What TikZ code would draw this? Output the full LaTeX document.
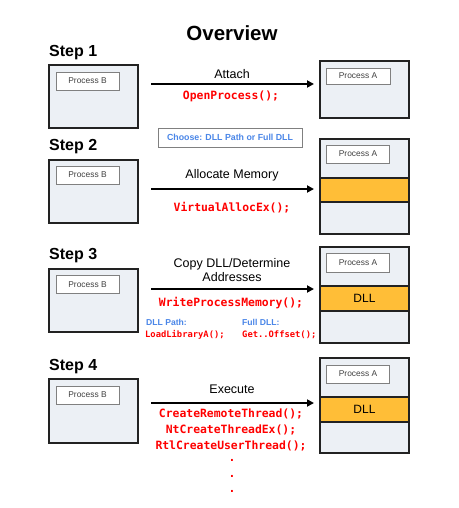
\documentclass[tikz,border=0pt]{standalone}
\usepackage{fontspec}
\setmainfont{Liberation Sans}
\newfontfamily\codefont{DejaVu Sans Mono}
\usetikzlibrary{arrows.meta}
\definecolor{boxfill}{RGB}{236,240,245}
\definecolor{bandfill}{RGB}{255,190,55}
\definecolor{codered}{RGB}{255,0,0}
\definecolor{noteblue}{RGB}{74,134,232}
\definecolor{edge}{RGB}{34,34,34}
\begin{document}
\begin{tikzpicture}[x=1pt,y=-1pt,
  procbox/.style={draw=edge,line width=1.4pt,fill=boxfill,inner sep=0pt,outer sep=0pt},
  plabel/.style={draw=black!50,line width=0.7pt,fill=white,inner sep=0pt,minimum width=63pt,minimum height=18pt,font=\fontsize{8.4}{10}\selectfont,text=black!75},
  band/.style={draw=edge,line width=1.2pt,fill=bandfill,inner sep=0pt,minimum width=89pt,minimum height=24pt,font=\fontsize{12}{14}\selectfont},
  steptitle/.style={anchor=west,inner sep=0pt,font=\bfseries\fontsize{16}{19}\selectfont},
  action/.style={inner sep=0pt,align=center,font=\fontsize{12.5}{14}\selectfont},
  code/.style={inner sep=0pt,text=codered,font=\codefont\bfseries\fontsize{11.4}{14}\selectfont},
  smallcode/.style={inner sep=0pt,anchor=west,text=codered,font=\codefont\bfseries\fontsize{8.8}{10}\selectfont},
  note/.style={inner sep=0pt,anchor=west,text=noteblue,font=\bfseries\fontsize{8.6}{10}\selectfont},
  arr/.style={line width=1.8pt,-{Triangle[length=7pt,width=7pt]}}]
\useasboundingbox[fill=white] (0,0) rectangle (458,508);

\node[inner sep=0pt,font=\bfseries\fontsize{20.5}{24}\selectfont] (title) at (232,33) {Overview};

% Step 1
\node[steptitle] (S1) at (49,53) {Step 1};
\node[procbox,minimum width=89pt,minimum height=63pt] (L1) at (93.5,96.5) {};
\node[plabel] (PB1) at (87.5,81) {Process B};
\node[procbox,minimum width=89pt,minimum height=57pt] (R1) at (364.5,89.5) {};
\node[plabel,minimum width=64pt,minimum height=16pt] (PA1) at (358,76) {Process A};
\coordinate (a1s) at (151,84);
\coordinate (a1e) at (314,84);
\draw[arr] (a1s) -- (a1e);
\node[action] (t1) at (232,74) {Attach};
\node[code] (c1) at (231,96) {OpenProcess();};

\node[draw=black!50,line width=0.7pt,fill=white,inner sep=0pt,minimum width=144pt,minimum height=19pt,text=noteblue,font=\bfseries\fontsize{8.8}{10}\selectfont] (choose) at (230,137.5) {Choose: DLL Path or Full DLL};

% Step 2
\node[steptitle] (S2) at (49,147) {Step 2};
\node[procbox,minimum width=89pt,minimum height=63pt] (L2) at (93.5,191.5) {};
\node[plabel] (PB2) at (87.5,175) {Process B};
\node[procbox,minimum width=89pt,minimum height=95pt] (R2) at (364.5,186.5) {};
\node[plabel] (PA2) at (358,154) {Process A};
\node[band] (D2) at (364.5,190) {};
\coordinate (a2s) at (151,189);
\coordinate (a2e) at (314,189);
\draw[arr] (a2s) -- (a2e);
\node[action] (t2) at (232,175) {Allocate Memory};
\node[code] (c2) at (232,208) {VirtualAllocEx();};

% Step 3
\node[steptitle] (S3) at (49,256) {Step 3};
\node[procbox,minimum width=89pt,minimum height=63pt] (L3) at (93.5,300.5) {};
\node[plabel] (PB3) at (87.5,284.5) {Process B};
\node[procbox,minimum width=89pt,minimum height=96pt] (R3) at (364.5,295) {};
\node[plabel,minimum height=19pt] (PA3) at (358,262.5) {Process A};
\node[band,minimum height=25pt] (D3) at (364.5,298.5) {DLL};
\coordinate (a3s) at (151,289);
\coordinate (a3e) at (314,289);
\draw[arr] (a3s) -- (a3e);
\node[action] (t3) at (232,270) {Copy DLL/Determine\\Addresses};
\node[code] (c3) at (231,303) {WriteProcessMemory();};
\node[note] (n1) at (146,322) {DLL Path:};
\node[smallcode] (s1) at (145,335) {LoadLibraryA();};
\node[note] (n2) at (242,322) {Full DLL:};
\node[smallcode] (s2) at (242,335) {Get..Offset();};

% Step 4
\node[steptitle] (S4) at (49,367) {Step 4};
\node[procbox,minimum width=89pt,minimum height=64pt] (L4) at (93.5,411) {};
\node[plabel] (PB4) at (87.5,395) {Process B};
\node[procbox,minimum width=89pt,minimum height=95pt] (R4) at (364.5,405.5) {};
\node[plabel] (PA4) at (358,374) {Process A};
\node[band,minimum height=25pt] (D4) at (364.5,409.5) {DLL};
\coordinate (a4s) at (151,403);
\coordinate (a4e) at (314,403);
\draw[arr] (a4s) -- (a4e);
\node[action] (t4) at (232,389) {Execute};
\node[code] (c4a) at (231,414) {CreateRemoteThread();};
\node[code] (c4b) at (231,430) {NtCreateThreadEx();};
\node[code] (c4c) at (231,446) {RtlCreateUserThread();};
\node[code] (d1) at (232,460) {.};
\node[code] (d2) at (232,476) {.};
\node[code] (d3) at (232,491) {.};
\end{tikzpicture}
\end{document}
